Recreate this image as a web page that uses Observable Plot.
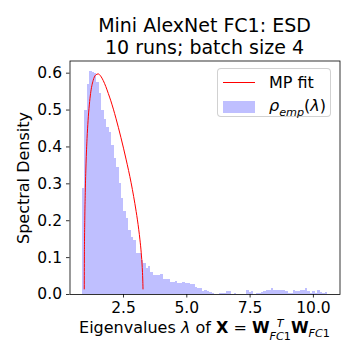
<!DOCTYPE html>
<html>
<head>
<meta charset="utf-8">
<script src="https://cdn.jsdelivr.net/npm/d3@7"></script>
<script src="https://cdn.jsdelivr.net/npm/@observablehq/plot@0.6"></script>
<style>
  html, body { margin: 0; padding: 0; background: #fff; }
  #fig { position: relative; width: 360px; height: 360px; font-family: "DejaVu Sans", sans-serif; color: #000; overflow: hidden; }
  #fig svg { position: absolute; left: 0; top: 0; }
  .title { position: absolute; left: 69.5px; width: 270px; top: 13.7px; text-align: center; font-size: 19px; line-height: 22.5px; white-space: nowrap; }
  .ylab { position: absolute; left: 23.3px; top: 178px; transform: translate(-50%, -50%) rotate(-90deg); font-size: 16px; white-space: nowrap; }
  .xlab { position: absolute; left: 69.5px; width: 270px; top: 317px; text-align: center; font-size: 16px; line-height: 20px; white-space: nowrap; }
  .ss { display: inline-flex; flex-direction: column; vertical-align: 5.5px; font-size: 11.2px; line-height: 1.18; }
  .sub { font-size: 11.2px; vertical-align: -4.5px; line-height: 1; }
  .legend { position: absolute; left: 217px; top: 68px; width: 114px; height: 49px; border: 1px solid rgba(204,204,204,0.9); border-radius: 4px; background: rgba(255,255,255,0.8); box-sizing: border-box; }
  .lg-line { position: absolute; left: 4.7px; top: 13.2px; width: 32.3px; height: 1px; background: #ff0000; }
  .lg-patch { position: absolute; left: 4.7px; top: 32px; width: 32.3px; height: 11.7px; }
  .lg-text { position: absolute; left: 51px; font-size: 16px; line-height: 20px; white-space: nowrap; }
</style>
</head>
<body>
<div id="fig">
  <div id="chart"></div>
  <div class="title">Mini AlexNet FC1: ESD<br>10 runs; batch size 4</div>
  <div class="ylab">Spectral Density</div>
  <div class="xlab">Eigenvalues <i>λ</i> of <b>X</b> = <b>W</b><span class="ss"><i>T</i><span><i>FC</i>1</span></span><b>W</b><span class="sub"><i>FC</i>1</span></div>
  <div class="legend">
    <div class="lg-line"></div>
    <div class="lg-text" style="top:3.5px">MP fit</div>
    <div class="lg-patch" id="lgpatch"></div>
    <div class="lg-text" style="top:26.5px"><i>ρ</i><span class="sub"><i>emp</i></span>(<i>λ</i>)</div>
  </div>
</div>
<script>
// Histogram (empirical spectral density): equal-width bins
const binStart = 0.87;
const binWidth = 0.0969;
const density = [
  0.288, 0.50, 0.569, 0.605, 0.602, 0.598, 0.575, 0.545, 0.50, 0.475,
  0.452, 0.438, 0.403, 0.37, 0.345, 0.30, 0.26, 0.225, 0.205, 0.174,
  0.155, 0.146, 0.112, 0.110, 0.092, 0.083, 0.07, 0.075, 0.06,
  0.052, 0.052, 0.052, 0.053, 0.04, 0.04, 0.04, 0.033, 0.033, 0.036,
  0.03, 0.029, 0.033, 0.031, 0.029, 0.028, 0.026, 0.018, 0.017, 0.017,
  0.009, 0.012, 0.009, 0.006, 0.004, 0, 0, 0.003, 0.003, 0.003,
  0.008, 0.008, 0, 0.003, 0, 0, 0, 0,
  0.011, 0.006, 0.009, 0, 0.003, 0.003, 0.006, 0.009, 0.01, 0.012,
  0.015, 0.012, 0.011, 0.01, 0.01, 0.012, 0.008, 0.003, 0.003, 0.011,
  0.009, 0.009, 0.01, 0.011, 0.016, 0.008, 0.003, 0.009, 0.003, 0.012,
  0.006, 0.004, 0.005
];

// MP fit curve
const mpLambda = [0.95, 0.955, 0.96, 0.97, 0.99, 1.02, 1.06, 1.1, 1.15, 1.2, 1.3, 1.4, 1.5, 1.6, 1.7, 1.8, 1.9, 2.0, 2.2, 2.4, 2.6, 2.8, 2.9, 3.0, 3.1, 3.15, 3.2, 3.24, 3.26, 3.265, 3.27];
const mpRho    = [0.015, 0.102, 0.144, 0.201, 0.277, 0.354, 0.423, 0.471, 0.514, 0.545, 0.580, 0.595, 0.598, 0.592, 0.580, 0.564, 0.545, 0.525, 0.478, 0.425, 0.367, 0.303, 0.266, 0.225, 0.177, 0.148, 0.113, 0.073, 0.042, 0.030, 0.015];

const xTicks = [2.5, 5.0, 7.5, 10.0];
const yTicks = [0.0, 0.1, 0.2, 0.3, 0.4, 0.5, 0.6];
const xDomain = [0.387, 11.05];
const yDomain = [0, 0.633];

const histColor = "#bfbfff";
const mpColor = "#ff0000";

const bins = density.map((d, i) => ({x1: binStart + i * binWidth, x2: binStart + (i + 1) * binWidth, y: d}));
const mp = mpLambda.map((l, i) => ({x: l, y: mpRho[i]}));

const chart = Plot.plot({
  width: 360,
  height: 360,
  marginLeft: 69.5,
  marginRight: 20.5,
  marginTop: 60.5,
  marginBottom: 66,
  style: {fontFamily: "DejaVu Sans, sans-serif", fontSize: "15.5px", color: "#000", background: "transparent"},
  x: {domain: xDomain},
  y: {domain: yDomain},
  marks: [
    Plot.rectY(bins, {x1: "x1", x2: "x2", y: "y", fill: histColor, shapeRendering: "crispEdges"}),
    Plot.line(mp, {x: "x", y: "y", stroke: mpColor, strokeWidth: 1, curve: "monotone-x"}),
    Plot.frame({stroke: "#000", strokeWidth: 0.8}),
    Plot.axisX({ticks: xTicks, tickFormat: d => d.toFixed(1), tickSize: 3.5, tickPadding: 4, fontSize: 15.5, label: null, strokeWidth: 0.8}),
    Plot.axisY({ticks: yTicks, tickFormat: d => d.toFixed(1), tickSize: 3.5, tickPadding: 4.5, fontSize: 15.5, label: null, strokeWidth: 0.8})
  ]
});
document.getElementById("chart").appendChild(chart);
document.getElementById("lgpatch").style.background = histColor;
</script>
</body>
</html>
